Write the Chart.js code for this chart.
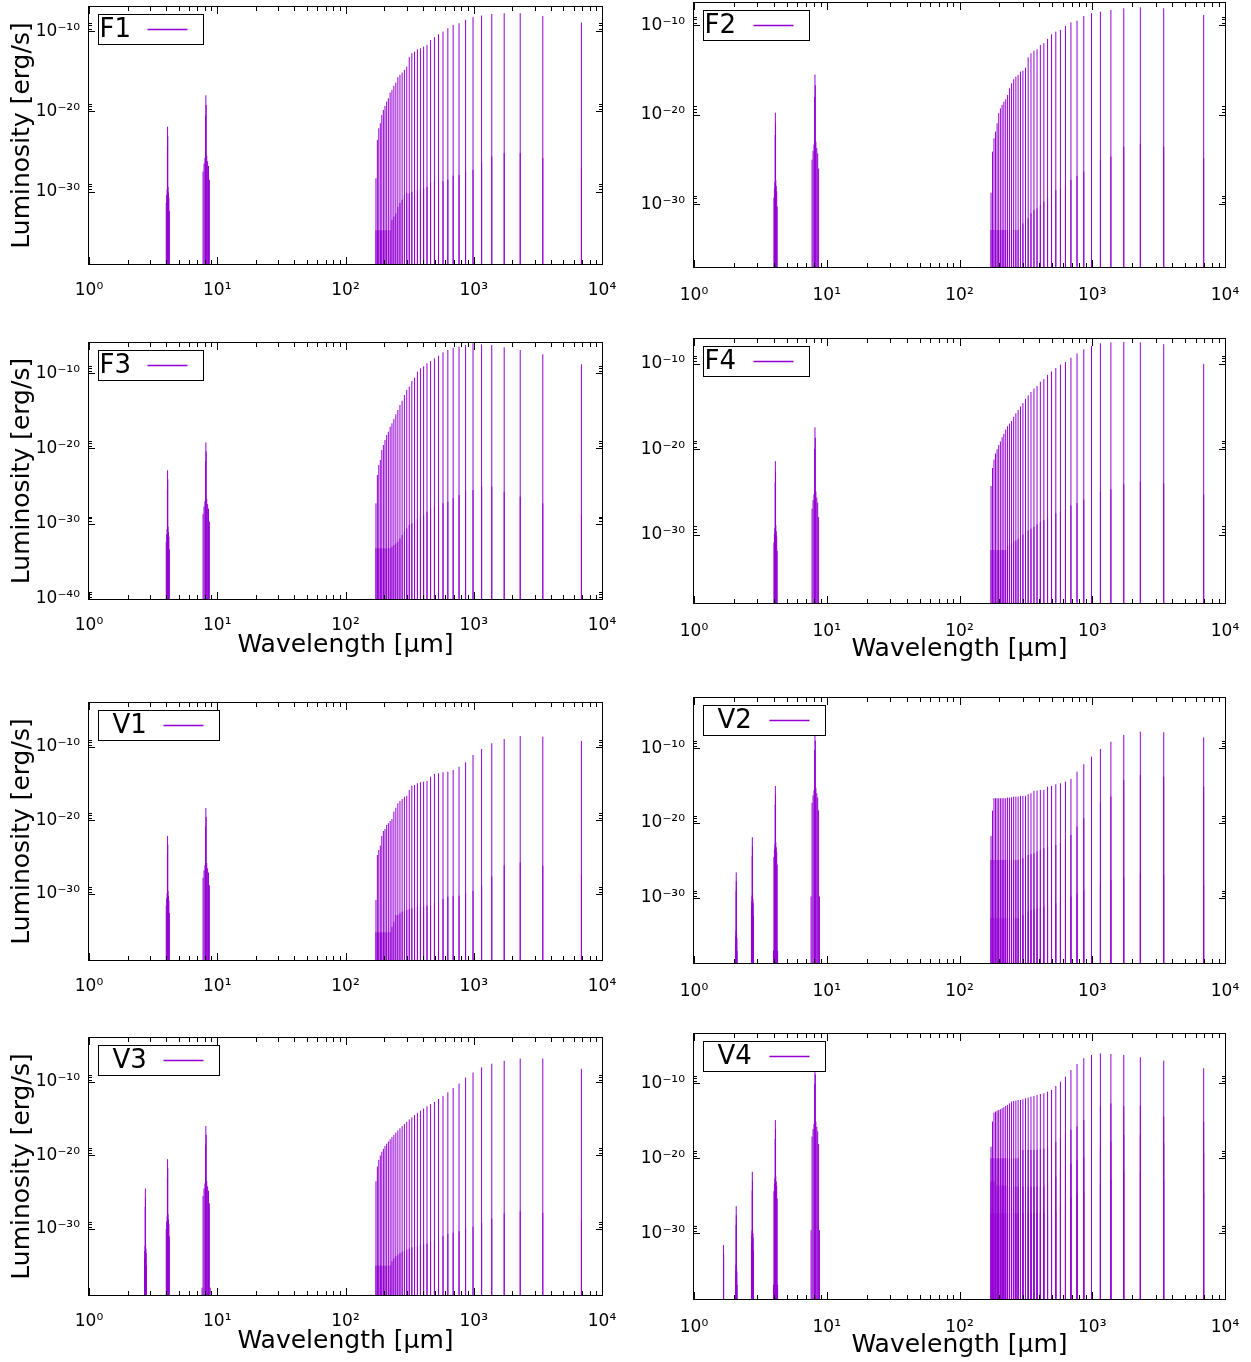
<!DOCTYPE html>
<html>
<head>
<meta charset="utf-8">
<title>SiO line luminosities</title>
<script src="https://cdn.jsdelivr.net/npm/chart.js@4.4.0/dist/chart.umd.min.js"></script>
<style>
  body { margin: 0; background: #fff; }
  #page { position: relative; width: 1251px; height: 1362px; background: #fff; }
  .panel { position: absolute; }
</style>
</head>
<body>
<div id="page"></div>
<script>
// rotational ladder, J = 1 .. 40, wavelength in micron
const ladderWavelength = [6910, 3455, 2303, 1727.5, 1382, 1151.7, 987.1, 863.8, 767.8, 691, 628.2, 575.8, 531.5, 493.6, 460.7, 431.9, 406.5, 383.9, 363.7, 345.5, 329.0, 314.1, 300.4, 287.9, 276.4, 265.8, 255.9, 246.8, 238.3, 230.3, 222.9, 215.9, 209.4, 203.2, 197.4, 191.9, 186.8, 181.8, 177.2, 172.8];

// vibrational bands (fundamental and overtones)
const bandCenter = [1.67, 2.08, 2.75, 4.1, 8.15];
const bandSpread = [0.012, 0.015, 0.02, 0.032, 0.065];
const bandOffset = [-1.0, -0.75, -0.5, -0.25, -0.1, 0, 0.1, 0.25, 0.5, 0.75, 1.0, 1.25];
const bandDrop = [-22, -9.5, -8.5, -7.8, -2.5, 0, -1.2, -7.5, -8.2, -8.8, -10.5, -22];

// tick values
const xTickValues = [1, 10, 100, 1000, 10000];
const yTicks3 = [-10, -20, -30];
const yTicks4 = [-10, -20, -30, -40];

// log10 luminosity [erg/s] per ladder line, J = 1 .. 40
const f1Range = [-39, -7];
const f1Peak = [-8.94, -8.11, -7.78, -7.78, -7.86, -8.07, -8.27, -8.6, -9.02, -9.23, -9.64, -10.06, -10.39, -10.76, -11.1, -11.72, -11.93, -12.13, -12.26, -12.55, -12.76, -13.25, -14.42, -14.83, -15.16, -15.45, -15.74, -16.41, -16.82, -17.32, -17.65, -18.36, -18.77, -19.31, -19.81, -20.44, -21.47, -22.1, -23.55, -28.32];
const f1Low = [-27.07, -25.83, -25.2, -25.2, -25.6, -26.45, -27.28, -27.5, -27.9, -28.0, -28.5, -28.7, -28.5, -28.7, -28.9, -29.4, -29.6, -29.7, -29.8, -29.8, -30.0, -30.2, -30.2, -30.4, -31.0, -31.4, -31.9, -32.7, -33.1, -33.5, -34.8, -34.8, -34.8, -34.8, -34.8, -34.8, -34.8, -34.8, -34.8, -34.8];
const f1Band = [null, null, null, -21.9, -18.0];

const f2Range = [-37, -7.5];
const f2Peak = [-8.84, -8.09, -7.98, -8.09, -8.28, -8.47, -8.65, -8.95, -9.47, -9.66, -10.07, -10.51, -10.7, -11.0, -11.52, -12.0, -12.19, -12.67, -12.82, -13.12, -13.57, -14.72, -15.06, -15.17, -15.54, -15.73, -16.02, -16.47, -17.03, -17.78, -18.26, -18.52, -18.89, -19.27, -19.82, -20.94, -21.87, -22.62, -24.11, -28.69];
const f2Low = [-24.85, -23.55, -23.25, -23.55, -24.67, -25.04, -25.41, -26.34, -26.83, -27.27, -27.83, -28.2, -28.39, -28.76, -29.32, -29.7, -30.07, -30.44, -30.63, -31.0, -31.56, -31.74, -32.12, -32.49, -32.86, -32.86, -32.86, -32.86, -32.86, -32.86, -32.86, -32.86, -32.86, -32.86, -32.86, -32.86, -32.86, -32.86, -32.86, -32.86];
const f2Band = [null, null, null, -19.75, -15.5];

const f3Range = [-40, -6];
const f3Peak = [-8.83, -7.5, -6.93, -6.57, -6.27, -6.18, -6.04, -6.27, -6.49, -6.63, -6.93, -7.24, -7.69, -8.03, -8.39, -8.7, -9.1, -9.36, -9.81, -10.61, -11.05, -11.8, -12.24, -12.91, -13.66, -14.24, -14.9, -15.47, -16.1, -16.67, -17.12, -17.78, -18.22, -18.88, -19.55, -20.21, -21.54, -22.2, -23.53, -27.29];
const f3Low = [-28.84, -27.29, -26.41, -25.75, -25.09, -25.09, -25.53, -25.66, -26.19, -26.63, -27.08, -27.29, -27.52, -27.74, -27.96, -28.4, -28.84, -29.07, -29.28, -29.51, -29.95, -30.17, -30.61, -31.06, -31.5, -31.94, -32.39, -32.6, -32.83, -33.05, -33.27, -33.27, -33.27, -33.27, -33.27, -33.27, -33.27, -33.27, -33.27, -33.27];
const f3Band = [null, null, null, -22.9, -19.2];

const f4Range = [-38, -7.1];
const f4Peak = [-10.0, -7.7, -7.5, -7.45, -7.5, -7.6, -7.9, -8.3, -8.8, -9.3, -9.8, -10.1, -10.5, -10.9, -11.3, -11.8, -12.1, -12.6, -12.9, -13.3, -13.7, -14.1, -14.6, -15.0, -15.4, -15.8, -16.2, -16.7, -17.0, -17.3, -17.7, -18.2, -18.6, -19.1, -19.5, -20.0, -20.5, -21.2, -22.2, -24.3];
const f4Low = [-25.3, -24.0, -23.8, -24.1, -24.7, -25.0, -25.4, -25.9, -26.3, -26.6, -27.0, -27.3, -27.5, -27.8, -28.0, -28.3, -28.5, -28.8, -29.1, -29.3, -29.5, -29.8, -30.0, -30.2, -30.5, -30.7, -30.8, -31.0, -31.2, -31.3, -31.8, -31.8, -31.8, -31.8, -31.8, -31.8, -31.8, -31.8, -31.8, -31.8];
const f4Band = [null, null, null, -21.4, -17.45];

const v1Range = [-39, -4];
const v1Peak = [-9.17, -8.58, -8.49, -8.9, -9.48, -10.26, -11.08, -12.07, -12.67, -13.12, -13.35, -13.43, -13.57, -13.66, -14.03, -14.62, -14.71, -14.8, -14.93, -15.16, -15.26, -15.84, -16.62, -16.76, -17.07, -17.34, -17.66, -18.26, -18.8, -19.8, -20.07, -20.38, -20.61, -21.16, -21.43, -22.11, -23.43, -24.02, -24.7, -30.82];
const v1Low = [-27.43, -26.15, -25.7, -26.15, -27.66, -28.88, -29.6, -29.92, -30.24, -30.29, -30.38, -30.69, -31.06, -31.28, -31.51, -31.6, -31.65, -31.74, -31.74, -31.88, -31.97, -32.1, -32.19, -32.33, -32.42, -32.64, -32.88, -32.88, -33.79, -34.47, -35.23, -35.23, -35.23, -35.23, -35.23, -35.23, -35.23, -35.23, -35.23, -35.23];
const v1Band = [null, null, null, -22.1, -18.3];

const v2Range = [-38.7, -3.3];
const v2Peak = [-8.55, -7.88, -7.8, -8.24, -9.13, -10.11, -11.14, -12.15, -13.14, -14.11, -14.47, -14.69, -14.82, -15.05, -15.14, -15.58, -15.58, -15.67, -15.7, -16.02, -16.16, -16.38, -16.38, -16.38, -16.47, -16.47, -16.47, -16.56, -16.6, -16.6, -16.69, -16.69, -16.69, -16.69, -16.69, -16.69, -16.69, -16.69, -18.35, -21.72];
const v2Mid = [-15.14, -13.8, -13.58, -14.25, -16.47, -17.36, -18.35, -19.36, -20.48, -21.6, -22.26, -22.7, -22.93, -23.06, -23.15, -23.37, -23.59, -23.8, -24.04, -24.15, -24.26, -24.5, -24.7, -24.8, -24.93, -24.93, -24.93, -24.93, -24.93, -24.93, -24.93, -24.93, -24.93, -24.93, -24.93, -24.93, -24.93, -24.93, -24.93, -24.93];
const v2Low = [-28.27, -26.93, -26.7, -27.16, -27.6, -28.0, -28.5, -29.0, -29.4, -29.83, -30.2, -30.5, -30.72, -30.9, -31.0, -31.17, -31.3, -31.4, -31.5, -31.6, -31.8, -32.05, -32.3, -32.5, -32.72, -32.72, -32.72, -32.72, -32.72, -32.72, -32.72, -32.72, -32.72, -32.72, -32.72, -32.72, -32.72, -32.72, -32.72, -32.72];
const v2Band = [null, -26.6, -21.9, -15.05, -7.8];

const v3Range = [-39, -4];
const v3Peak = [-8.2, -6.8, -6.8, -7.1, -7.5, -8.0, -8.7, -9.4, -10.2, -10.8, -11.4, -11.9, -12.3, -12.7, -13.0, -13.3, -13.6, -13.9, -14.2, -14.5, -14.8, -15.1, -15.4, -15.7, -16.0, -16.3, -16.6, -16.9, -17.2, -17.5, -17.8, -18.1, -18.4, -18.7, -19.1, -19.5, -20.0, -20.6, -21.5, -23.5];
const v3Low = [-28.7, -27.8, -27.6, -27.9, -28.6, -29.2, -29.7, -30.0, -30.3, -30.5, -30.7, -31.0, -31.3, -31.6, -31.8, -32.0, -32.1, -32.2, -32.3, -32.4, -32.5, -32.7, -32.8, -33.0, -33.1, -33.3, -33.5, -33.7, -34.0, -34.4, -35.0, -35.0, -35.0, -35.0, -35.0, -35.0, -35.0, -35.0, -35.0, -35.0];
const v3Band = [null, null, -24.5, -20.5, -16.0];

const v4Range = [-38.8, -3.4];
const v4Peak = [-7.98, -6.96, -6.51, -6.2, -6.07, -5.98, -6.2, -6.64, -7.41, -8.21, -9.1, -9.77, -10.34, -10.88, -11.1, -11.32, -11.41, -11.54, -11.68, -11.77, -11.9, -11.99, -12.12, -12.21, -12.21, -12.3, -12.35, -12.43, -12.66, -12.88, -13.01, -13.19, -13.32, -13.46, -13.55, -13.64, -13.77, -13.91, -15.11, -18.45];
const v4Mid = [-15.11, -14.44, -13.0, -13.0, -12.66, -13.1, -14.21, -14.88, -15.77, -16.2, -16.66, -17.3, -17.8, -18.2, -18.5, -18.7, -18.8, -18.9, -18.9, -18.9, -18.9, -18.9, -18.9, -18.9, -20.0, -20.0, -20.0, -20.0, -20.0, -20.0, -20.0, -20.0, -20.0, -20.0, -20.0, -20.0, -20.0, -20.0, -20.0, -20.0];
const v4Low = [-19.33, -18.0, -16.88, -16.88, -17.78, -18.5, -19.33, -19.8, -20.22, -20.7, -21.11, -21.8, -22.45, -22.9, -23.3, -23.79, -23.79, -23.79, -23.79, -23.79, -23.79, -23.79, -23.79, -23.79, -23.79, -23.79, -23.79, -23.79, -23.79, -23.79, -23.65, -23.65, -23.65, -23.65, -23.65, -23.65, -23.12, -23.12, -23.12, -23.12];
const v4Base = [-24.67, -22.89, -21.78, -21.78, -22.89, -23.5, -24.23, -24.5, -24.67, -25.2, -25.79, -26.4, -27.12, -27.5, -27.79, -27.34, -27.34, -27.34, -27.34, -27.34, -27.34, -27.34, -27.34, -27.34, -27.34, -27.34, -27.34, -27.34, -27.34, -27.34, -27.34, -27.34, -27.34, -27.34, -27.34, -27.34, -27.34, -27.34, -27.34, -27.34];
const v4Band = [-31.6, -26.4, -21.8, -14.9, -7.6];

const FONT = '"DejaVu Sans", sans-serif';
const LINE_COLOR = '#9400d3';
const FLOOR = 1e-45;

// page boxes: canvas [left, top, width, height], plot area [left, top, right, bottom]
const layout = {
  F1: { box: [0, 0, 620, 300], area: [89, 7, 602, 264], left: true, key: 105 },
  F2: { box: [626, 0, 625, 300], area: [694, 3, 1225, 267], left: false, key: 106 },
  F3: { box: [0, 300, 620, 372], area: [89, 343, 602, 599], left: true, key: 105, xTitlePad: 12 },
  F4: { box: [626, 300, 625, 372], area: [694, 339, 1225, 603], left: false, key: 106, xTitlePad: 8 },
  V1: { box: [0, 672, 620, 328], area: [89, 703, 602, 960], left: true, key: 121 },
  V2: { box: [626, 672, 625, 328], area: [694, 698, 1225, 963], left: false, key: 122 },
  V3: { box: [0, 1000, 620, 362], area: [89, 1038, 602, 1295], left: true, key: 121, xTitlePad: 6 },
  V4: { box: [626, 1000, 625, 362], area: [694, 1034, 1225, 1299], left: false, key: 122, xTitlePad: 2 }
};

const panels = [
  { name: 'F1', range: f1Range, ticks: yTicks3, series: [f1Peak, f1Low], band: f1Band },
  { name: 'F2', range: f2Range, ticks: yTicks3, series: [f2Peak, f2Low], band: f2Band },
  { name: 'F3', range: f3Range, ticks: yTicks4, series: [f3Peak, f3Low], band: f3Band },
  { name: 'F4', range: f4Range, ticks: yTicks3, series: [f4Peak, f4Low], band: f4Band },
  { name: 'V1', range: v1Range, ticks: yTicks3, series: [v1Peak, v1Low], band: v1Band },
  { name: 'V2', range: v2Range, ticks: yTicks3, series: [v2Peak, v2Mid, v2Low], band: v2Band },
  { name: 'V3', range: v3Range, ticks: yTicks3, series: [v3Peak, v3Low], band: v3Band },
  { name: 'V4', range: v4Range, ticks: yTicks3, series: [v4Peak, v4Mid, v4Low, v4Base], band: v4Band }
];

const SUP = { '-': '\u207b', '0': '\u2070', '1': '\u00b9', '2': '\u00b2', '3': '\u00b3', '4': '\u2074', '5': '\u2075', '6': '\u2076', '7': '\u2077', '8': '\u2078', '9': '\u2079' };

function powerLabel(exp) {
  return '10' + String(exp).split('').map(c => SUP[c]).join('');
}

// each line is a vertical spike from the floor up to its value
function spikeData(xs, exps) {
  const pts = [];
  xs.forEach((x, i) => {
    if (exps[i] === null) return;
    pts.push({ x: x, y: FLOOR }, { x: x, y: Math.pow(10, exps[i]) }, { x: x, y: null });
  });
  return pts;
}

function bandData(peaks) {
  const xs = [];
  const ys = [];
  peaks.forEach((peak, b) => {
    if (peak === null) return;
    bandOffset.forEach((off, k) => {
      xs.push(bandCenter[b] * (1 + off * bandSpread[b]));
      ys.push(peak + bandDrop[k]);
    });
  });
  return spikeData(xs, ys);
}

const framePlugin = {
  id: 'frame',
  afterDatasetsDraw(chart, args, opts) {
    const { ctx, chartArea: a } = chart;
    const xs = chart.scales.x;
    const ys = chart.scales.y;
    ctx.save();
    ctx.strokeStyle = '#000';
    ctx.lineWidth = 1;
    ctx.beginPath();
    xTickValues.forEach(v => {
      for (let k = 1; k < 10; k++) {
        if (v * k > 10000) break;
        const px = Math.round(xs.getPixelForValue(v * k)) + 0.5;
        const len = k === 1 ? 7 : 4;
        ctx.moveTo(px, a.bottom); ctx.lineTo(px, a.bottom - len);
        ctx.moveTo(px, a.top); ctx.lineTo(px, a.top + len);
      }
    });
    opts.ticks.forEach(e => {
      [1, 2, 5, 9].forEach(k => {
        const py = Math.round(ys.getPixelForValue(k * Math.pow(10, e))) + 0.5;
        const len = k === 1 ? 6 : 3;
        ctx.moveTo(a.left, py); ctx.lineTo(a.left + len, py);
        ctx.moveTo(a.right, py); ctx.lineTo(a.right - len, py);
      });
    });
    ctx.stroke();
    ctx.strokeRect(a.left - 0.5, a.top - 0.5, a.right - a.left + 1, a.bottom - a.top + 1);
    ctx.restore();
  }
};

const keyPlugin = {
  id: 'key',
  afterDatasetsDraw(chart, args, opts) {
    const { ctx, chartArea: a } = chart;
    const x0 = Math.round(a.left + 9) + 0.5;
    const y0 = Math.round(a.top + 7) + 0.5;
    const h = 30;
    ctx.save();
    ctx.fillStyle = '#fff';
    ctx.fillRect(x0, y0, opts.width, h);
    ctx.strokeStyle = '#000';
    ctx.lineWidth = 1;
    ctx.strokeRect(x0, y0, opts.width, h);
    ctx.fillStyle = '#000';
    ctx.font = '26px ' + FONT;
    ctx.textBaseline = 'middle';
    ctx.fillText(opts.text, x0 + opts.textX, y0 + h / 2 + 1);
    ctx.strokeStyle = LINE_COLOR;
    ctx.lineWidth = 1.4;
    ctx.beginPath();
    ctx.moveTo(x0 + opts.width - 56, y0 + h / 2);
    ctx.lineTo(x0 + opts.width - 16, y0 + h / 2);
    ctx.stroke();
    ctx.restore();
  }
};

function drawPanel(panel) {
  const geo = layout[panel.name];
  const [bx, by, bw, bh] = geo.box;
  const [ax0, ay0, ax1, ay1] = geo.area;

  const canvas = document.createElement('canvas');
  canvas.className = 'panel';
  canvas.width = bw;
  canvas.height = bh;
  canvas.style.left = bx + 'px';
  canvas.style.top = by + 'px';
  canvas.style.width = bw + 'px';
  canvas.style.height = bh + 'px';
  document.getElementById('page').appendChild(canvas);

  const datasets = panel.series.map(s => ({ data: spikeData(ladderWavelength, s) }));
  datasets.push({ data: bandData(panel.band) });
  datasets.forEach(d => {
    d.borderColor = LINE_COLOR;
    d.borderWidth = 1;
    d.pointRadius = 0;
    d.fill = false;
  });

  const hasXTitle = geo.xTitlePad !== undefined;

  new Chart(canvas, {
    type: 'line',
    data: { datasets: datasets },
    plugins: [framePlugin, keyPlugin],
    options: {
      responsive: false,
      animation: false,
      events: [],
      layout: { padding: { left: 0, bottom: 0, top: ay0 - by, right: bx + bw - ax1 } },
      plugins: {
        legend: { display: false },
        tooltip: { enabled: false },
        frame: { ticks: panel.ticks },
        key: { text: panel.name, width: geo.key, textX: panel.name[0] === 'V' ? 14 : 1 }
      },
      scales: {
        x: {
          type: 'logarithmic',
          position: 'bottom',
          min: 1,
          max: 10000,
          afterBuildTicks: s => { s.ticks = xTickValues.map(v => ({ value: v })); },
          afterFit: s => { s.height = by + bh - ay1; s.paddingLeft = 0; s.paddingRight = 0; },
          grid: { display: false },
          border: { display: false },
          ticks: {
            autoSkip: false,
            maxRotation: 0,
            padding: geo.left ? 8 : 10,
            color: '#000',
            font: { family: FONT, size: 17 },
            callback: v => powerLabel(Math.round(Math.log10(v)))
          },
          title: {
            display: hasXTitle,
            text: 'Wavelength [\u03bcm]',
            color: '#000',
            font: { family: FONT, size: 25 },
            padding: { top: 0, bottom: hasXTitle ? geo.xTitlePad : 0 }
          }
        },
        y: {
          type: 'logarithmic',
          position: 'left',
          min: Math.pow(10, panel.range[0]),
          max: Math.pow(10, panel.range[1]),
          afterBuildTicks: s => { s.ticks = panel.ticks.map(e => ({ value: Math.pow(10, e) })); },
          afterFit: s => { s.width = ax0 - bx; s.paddingTop = 0; s.paddingBottom = 0; },
          grid: { display: false },
          border: { display: false },
          ticks: {
            autoSkip: false,
            padding: 1,
            color: '#000',
            font: { family: FONT, size: 17 },
            callback: v => powerLabel(Math.round(Math.log10(v)))
          },
          title: {
            display: geo.left,
            text: 'Luminosity [erg/s]',
            color: '#000',
            font: { family: FONT, size: 25 },
            padding: { top: 7, bottom: 0 }
          }
        }
      }
    }
  });
}

panels.forEach(drawPanel);
</script>
</body>
</html>
